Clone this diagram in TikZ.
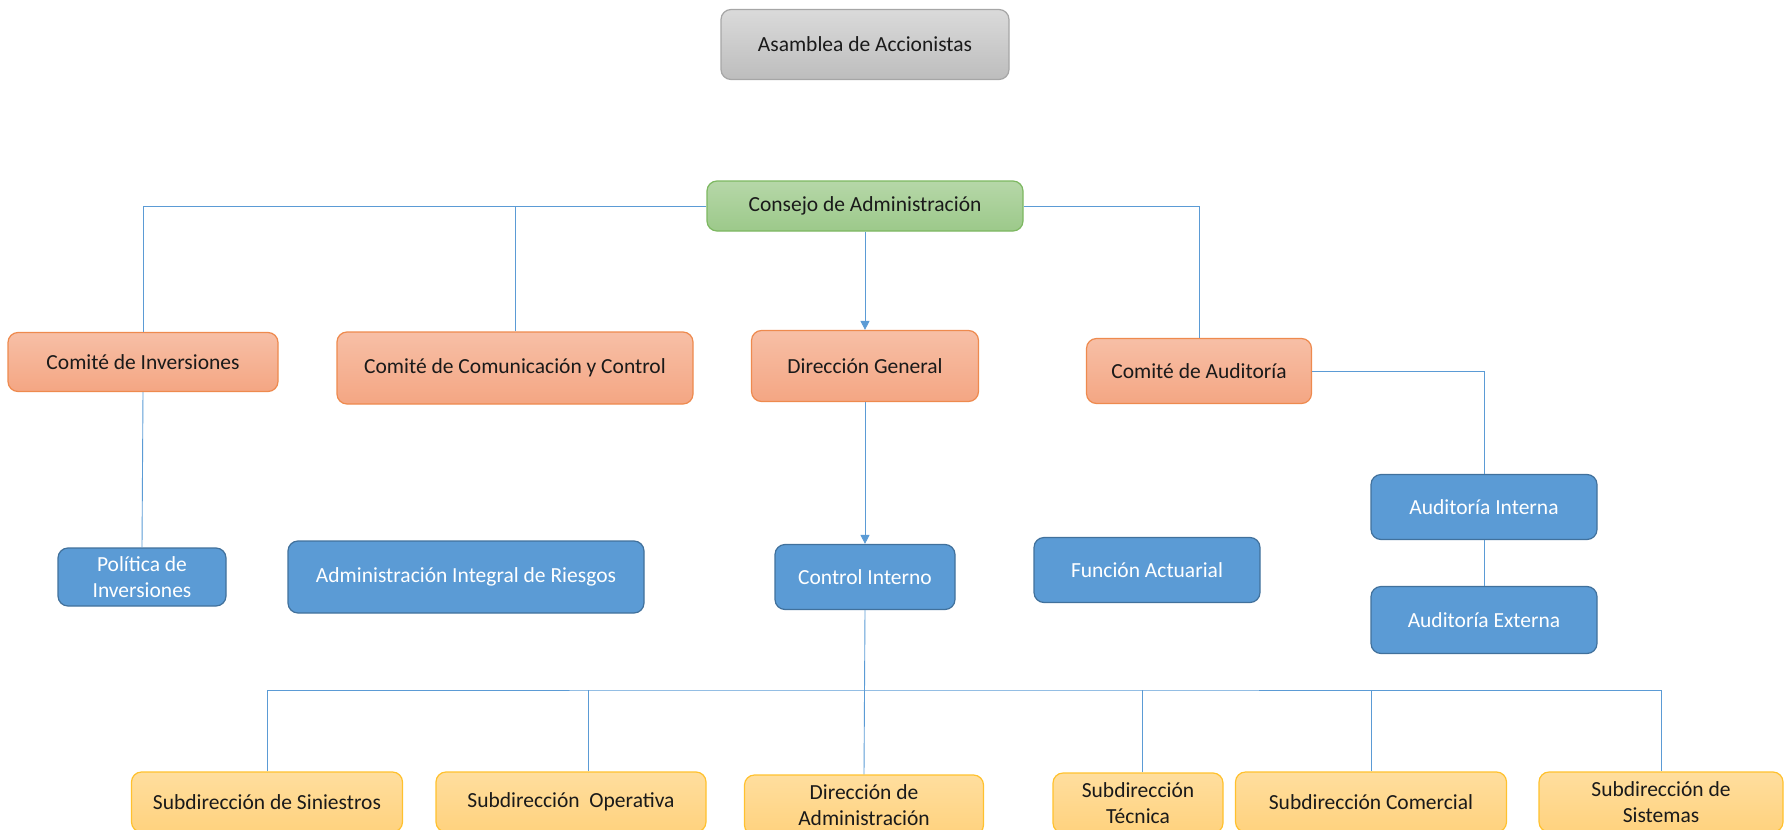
\documentclass[tikz,border=0pt]{standalone}
\usepackage{fontspec}
\setmainfont{Carlito}
\usetikzlibrary{arrows.meta}
\definecolor{linec}{HTML}{5B9BD5}
\definecolor{txt}{HTML}{1A1A1A}
\definecolor{grayT}{HTML}{DADADA}
\definecolor{grayB}{HTML}{BDBDBD}
\definecolor{grayD}{HTML}{A6A6A6}
\definecolor{greenT}{HTML}{B6D7A8}
\definecolor{greenB}{HTML}{9CC98A}
\definecolor{greenD}{HTML}{7DB861}
\definecolor{orT}{HTML}{F7BFA6}
\definecolor{orB}{HTML}{F4A683}
\definecolor{orD}{HTML}{EE8A4E}
\definecolor{blF}{HTML}{5B9BD5}
\definecolor{blD}{HTML}{41719C}
\definecolor{yeT}{HTML}{FFDE9E}
\definecolor{yeB}{HTML}{FFD27E}
\definecolor{yeD}{HTML}{FFC12E}
\tikzset{
  box/.style={rounded corners=10pt, line width=1.2pt, inner sep=2pt, align=center,
    font=\fontsize{21.5}{26}\selectfont, text=txt},
  graybox/.style={box, draw=grayD, top color=grayT, bottom color=grayB},
  greenbox/.style={box, draw=greenD, top color=greenT, bottom color=greenB},
  orbox/.style={box, draw=orD, top color=orT, bottom color=orB},
  bluebox/.style={box, draw=blD, fill=blF, text=white},
  yebox/.style={box, draw=yeD, top color=yeT, bottom color=yeB},
  conn/.style={draw=linec, line width=0.9pt},
  arr/.style={conn, -{Triangle[width=9pt,length=9pt]}}
}
\begin{document}
\begin{tikzpicture}[x=1pt,y=-1pt]
\useasboundingbox (0,0) rectangle (1789,830);
\clip (0,0) rectangle (1789,830);
% top
\node[graybox, minimum width=288pt, minimum height=70pt] (asam) at (865,44.5) {Asamblea de Accionistas};
\node[greenbox, minimum width=316pt, minimum height=50pt] (cons) at (865,206) {Consejo de Administración};
% second row
\node[orbox, minimum width=270pt, minimum height=59pt] (cinv) at (143,362) {Comité de Inversiones};
\node[orbox, minimum width=356pt, minimum height=72pt] (ccc) at (515,368) {Comité de Comunicación y Control};
\node[orbox, minimum width=227pt, minimum height=71pt] (dg) at (865,366) {Dirección General};
\node[orbox, minimum width=225pt, minimum height=65pt] (ca) at (1199,371) {Comité de Auditoría};
% third row
\node[bluebox, minimum width=168pt, minimum height=58pt] (pol) at (142,577) {Política de\\Inversiones};
\node[bluebox, minimum width=356pt, minimum height=72pt] (air) at (466,577) {Administración Integral de Riesgos};
\node[bluebox, minimum width=180pt, minimum height=65pt] (ctrl) at (865,577) {Control Interno};
\node[bluebox, minimum width=226pt, minimum height=65pt] (fa) at (1147,570) {Función Actuarial};
\node[bluebox, minimum width=226pt, minimum height=65pt] (ai) at (1484,507) {Auditoría Interna};
\node[bluebox, minimum width=226pt, minimum height=67pt] (ae) at (1484,620) {Auditoría Externa};
% bottom row
\node[yebox, minimum width=271pt, minimum height=60pt] (ss) at (267,802) {Subdirección de Siniestros};
\node[yebox, minimum width=270pt, minimum height=60pt] (so) at (571,802) {Subdirección\ \ Operativa};
\node[yebox, minimum width=239pt, minimum height=60pt] (da) at (864,805) {Dirección de\\Administración};
\node[yebox, minimum width=170pt, minimum height=60pt] (st) at (1138,803) {Subdirección\\Técnica};
\node[yebox, minimum width=271pt, minimum height=60pt] (sc) at (1371,802) {Subdirección Comercial};
\node[yebox, minimum width=244pt, minimum height=60pt] (sis) at (1661,802) {Subdirección de\\Sistemas};
% connectors
\coordinate (bus) at (865,690);
\draw[conn] (cons.west) -| (cinv.north);
\draw[conn] (ccc.north) -- (ccc.north |- cons.west);
\draw[conn] (cons.east) -| (ca.north);
\draw[arr] (cons.south) -- (dg.north);
\draw[arr] (dg.south) -- (ctrl.north);
\draw[conn] (cinv.south) -- (pol.north);
\draw[conn] (ca.east) -| (ai.north);
\draw[conn] (ai.south) -- (ae.north);
\draw[conn] (ctrl.south) -- (da.north);
\draw[conn] (ss.north) |- (bus) -| (sis.north);
\draw[conn] ([xshift=17pt]so.north) -- ([xshift=17pt]so.north |- bus);
\draw[conn] ([xshift=4pt]st.north) -- ([xshift=4pt]st.north |- bus);
\draw[conn] (sc.north) -- (sc.north |- bus);
\end{tikzpicture}
\end{document}
